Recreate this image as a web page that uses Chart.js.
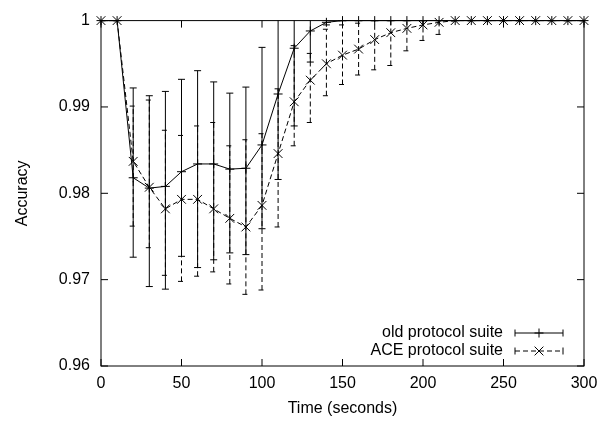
<!DOCTYPE html>
<html><head><meta charset="utf-8">
<script src="https://cdn.jsdelivr.net/npm/chart.js@4.4.0/dist/chart.umd.min.js"></script>
<style>html,body{margin:0;padding:0;background:#fff}canvas{display:block}</style>
</head><body>
<canvas id="c" width="610" height="422"></canvas>
<script>
// ---- data ----
const times = [0,10,20,30,40,50,60,70,80,90,100,110,120,130,140,150,160,170,180,190,200,210,220,230,240,250,260,270,280,290,300];
const oldMean = [1,1,0.9818,0.9806,0.9808,0.9825,0.9834,0.9834,0.9828,0.9829,0.9856,0.9915,0.9968,0.9988,0.9998,1,1,1,1,1,1,1,1,1,1,1,1,1,1,1,1];
const oldLow  = [1,1,0.9726,0.9692,0.9689,0.9727,0.9714,0.9723,0.9731,0.9729,0.9759,0.9816,0.9878,0.9952,0.9995,1,1,1,1,1,1,1,1,1,1,1,1,1,1,1,1];
const oldHigh = [1,1,0.9922,0.9913,0.9918,0.9932,0.9942,0.9929,0.9916,0.9923,0.9969,1.0014,1.0058,1.0024,1.0001,1,1,1,1,1,1,1,1,1,1,1,1,1,1,1,1];
const aceMean = [1,1,0.9837,0.9807,0.9782,0.9793,0.9793,0.9782,0.9771,0.9761,0.9786,0.9846,0.9906,0.9931,0.9950,0.9960,0.9967,0.9978,0.9986,0.9991,0.9995,0.9998,1,1,1,1,1,1,1,1,1];
const aceLow  = [1,1,0.9762,0.9737,0.9705,0.9698,0.9704,0.9709,0.9695,0.9683,0.9688,0.9761,0.9855,0.9882,0.9913,0.9926,0.9937,0.9943,0.9948,0.9965,0.9977,0.9984,1,1,1,1,1,1,1,1,1];
const aceHigh = [1,1,0.9901,0.9908,0.9873,0.9867,0.9878,0.9882,0.9855,0.9862,0.9869,0.9921,0.9971,0.9962,0.9990,0.9995,0.9997,1,1,1,1,1,1,1,1,1,1,1,1,1,1];
const xTicks = [0,50,100,150,200,250,300];
const yTicks = [0.96,0.97,0.98,0.99,1];
const seriesNames = ['old protocol suite','ACE protocol suite'];
const xTitle = 'Time (seconds)';
const yTitle = 'Accuracy';

// ---- styling ----
const FONT = "'Liberation Sans', Arial, Helvetica, sans-serif";
const FS = 16;
const DASH = [5,3];
const TICK = 7;
const CAP = 3.5;

const errorBars = [
  {low: oldLow, high: oldHigh, dash: []},
  {low: aceLow, high: aceHigh, dash: DASH}
];

const errPlugin = {
  id: 'errbars',
  afterDatasetsDraw(chart) {
    const {ctx, chartArea: a, scales: {x, y}} = chart;
    ctx.save();
    ctx.beginPath();
    ctx.rect(a.left, a.top, a.right - a.left, a.bottom - a.top);
    ctx.clip();
    ctx.strokeStyle = '#000';
    ctx.lineWidth = 1;
    errorBars.forEach(eb => {
      ctx.setLineDash(eb.dash);
      times.forEach((t, i) => {
        const px = x.getPixelForValue(t);
        const y1 = y.getPixelForValue(eb.low[i]);
        const y2 = y.getPixelForValue(eb.high[i]);
        ctx.beginPath();
        ctx.moveTo(px, y1); ctx.lineTo(px, y2);
        ctx.moveTo(px - CAP, y1); ctx.lineTo(px + CAP, y1);
        ctx.moveTo(px - CAP, y2); ctx.lineTo(px + CAP, y2);
        ctx.stroke();
      });
    });
    ctx.restore();
  },
  afterDraw(chart) {
    const {ctx, chartArea: a, scales: {x, y}} = chart;
    ctx.save();
    ctx.strokeStyle = '#000';
    ctx.lineWidth = 1;
    ctx.setLineDash([]);
    ctx.strokeRect(a.left, a.top, a.right - a.left, a.bottom - a.top);
    ctx.beginPath();
    xTicks.forEach(v => {
      const px = x.getPixelForValue(v);
      ctx.moveTo(px, a.bottom); ctx.lineTo(px, a.bottom - TICK);
      ctx.moveTo(px, a.top); ctx.lineTo(px, a.top + TICK);
    });
    yTicks.forEach(v => {
      const py = y.getPixelForValue(v);
      ctx.moveTo(a.left, py); ctx.lineTo(a.left + TICK, py);
      ctx.moveTo(a.right, py); ctx.lineTo(a.right - TICK, py);
    });
    ctx.stroke();

    // legend
    ctx.font = FS + 'px ' + FONT;
    ctx.fillStyle = '#000';
    ctx.textAlign = 'right';
    ctx.textBaseline = 'middle';
    const rows = [333, 351];
    const textRight = 503, s0 = 515, s1 = 563;
    chart.data.datasets.forEach((ds, i) => {
      const ry = rows[i];
      ctx.fillText(ds.label, textRight, ry);
      ctx.setLineDash(ds.borderDash || []);
      ctx.beginPath();
      ctx.moveTo(s0, ry); ctx.lineTo(s1, ry);
      ctx.stroke();
      ctx.setLineDash([]);
      ctx.beginPath();
      ctx.moveTo(s0, ry - 3.5); ctx.lineTo(s0, ry + 3.5);
      ctx.moveTo(s1, ry - 3.5); ctx.lineTo(s1, ry + 3.5);
      ctx.stroke();
      Chart.helpers.drawPoint(ctx, {pointStyle: ds.pointStyle, radius: ds.pointRadius, borderWidth: 1, rotation: 0}, (s0 + s1) / 2, ry);
    });
    ctx.restore();
  }
};

const toXY = (arr) => times.map((t, i) => ({x: t, y: arr[i]}));

new Chart(document.getElementById('c'), {
  type: 'line',
  data: {
    datasets: [
      {label: seriesNames[0], data: toXY(oldMean), borderColor: '#000', borderWidth: 1,
       pointStyle: 'cross', pointRadius: 4.5, pointBorderColor: '#000', pointBorderWidth: 1,
       fill: false, tension: 0, clip: false},
      {label: seriesNames[1], data: toXY(aceMean), borderColor: '#000', borderWidth: 1, borderDash: DASH,
       pointStyle: 'crossRot', pointRadius: 6.2, pointBorderColor: '#000', pointBorderWidth: 1,
       fill: false, tension: 0, clip: false}
    ]
  },
  options: {
    responsive: false,
    animation: false,
    devicePixelRatio: 1,
    layout: {padding: {left: 0, right: 26, top: 12, bottom: 0}},
    plugins: {legend: {display: false}, tooltip: {enabled: false}},
    elements: {point: {hoverRadius: 0}},
    scales: {
      x: {
        type: 'linear', min: 0, max: 300,
        grid: {display: false, drawTicks: false},
        border: {display: false},
        afterBuildTicks: s => { s.ticks = xTicks.map(v => ({value: v})); },
        afterFit: s => { s.height = 56; },
        ticks: {autoSkip: false, maxRotation: 0, padding: 8, color: '#000', font: {family: FONT, size: FS},
                callback: v => String(v)},
        title: {display: true, text: xTitle, color: '#000', font: {family: FONT, size: FS}, padding: {top: 0, bottom: 4}}
      },
      y: {
        type: 'linear', min: 0.96, max: 1,
        grid: {display: false, drawTicks: false},
        border: {display: false},
        afterBuildTicks: s => { s.ticks = yTicks.map(v => ({value: v})); },
        afterFit: s => { s.width = 101; },
        ticks: {autoSkip: false, padding: 11, color: '#000', font: {family: FONT, size: FS},
                callback: v => String(Number(v.toFixed(2)))},
        title: {display: true, text: yTitle, color: '#000', font: {family: FONT, size: FS}, padding: {top: 13, bottom: 0}}
      }
    }
  },
  plugins: [errPlugin]
});
</script>
</body></html>
